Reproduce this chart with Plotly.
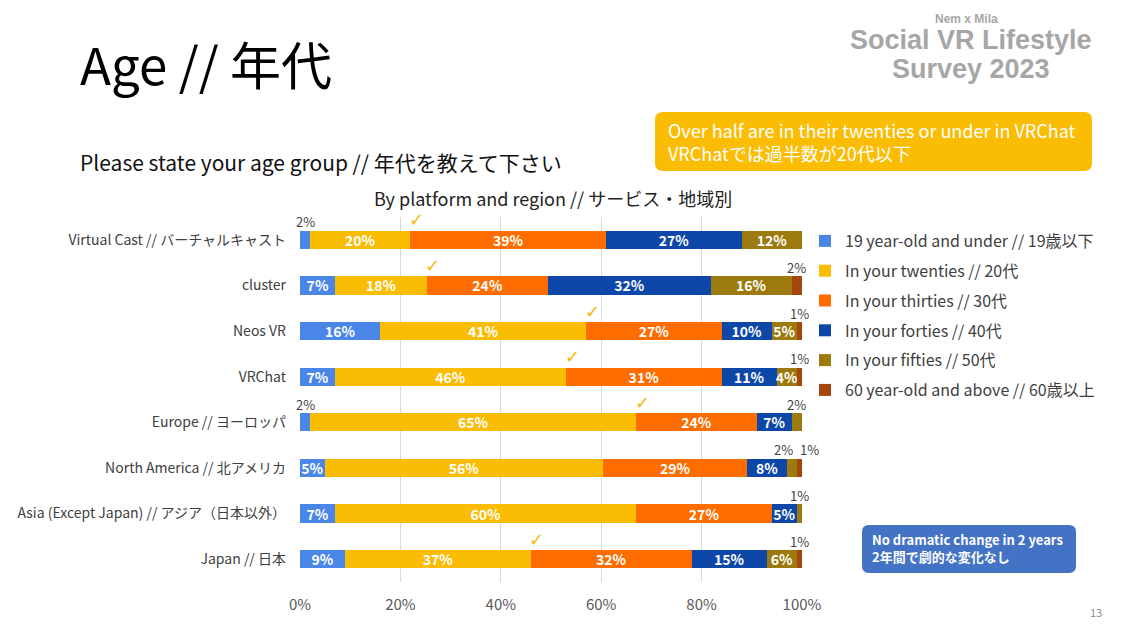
import plotly.graph_objects as go

categories = [
    "Virtual Cast // バーチャルキャスト",
    "cluster",
    "Neos VR",
    "VRChat",
    "Europe // ヨーロッパ",
    "North America // 北アメリカ",
    "Asia (Except Japan) // アジア（日本以外）",
    "Japan // 日本",
]
series_names = [
    "19 year-old and under // 19歳以下",
    "In your twenties // 20代",
    "In your thirties // 30代",
    "In your forties // 40代",
    "In your fifties // 50代",
    "60 year-old and above // 60歳以上",
]
age_19_under = [2, 7, 16, 7, 2, 5, 7, 9]
age_20s = [20, 18, 41, 46, 65, 56, 60, 37]
age_30s = [39, 24, 27, 31, 24, 29, 27, 32]
age_40s = [27, 32, 10, 11, 7, 8, 5, 15]
age_50s = [12, 16, 5, 4, 2, 2, 1, 6]
age_60_over = [0, 2, 1, 1, 0, 1, 0, 1]
checked_rows = [True, True, True, True, True, False, False, True]
x_ticks = [0, 20, 40, 60, 80, 100]

colors = ["#4a86e8", "#fbbc04", "#ff6d01", "#0d47a8", "#9c7a0e", "#a5470d"]
series = [age_19_under, age_20s, age_30s, age_40s, age_50s, age_60_over]

FONT = "Noto Sans CJK JP"
W, H = 1125, 633
OFF = 8  # the page body margin shifts the figure by this much

# plot area in page pixels: x 300..802, y 217..582
L, R, T, B = 300, 802, 217, 582


def paper(x, y):
    return (x - L) / (R - L), (B - y) / (B - T)


fig = go.Figure()
for i, (name, vals) in enumerate(zip(series_names, series)):
    fig.add_trace(go.Bar(
        y=categories, x=vals, name=name, orientation="h",
        marker=dict(color=colors[i], line=dict(width=0)),
        text=[f"{v}%" if v >= 4 else "" for v in vals],
        textposition="inside", insidetextanchor="middle",
        textfont=dict(family=FONT, size=14, color="white", weight=700),
        constraintext="none",
        legendgroup=f"g{i}",
    ))

annotations = []
# small values labelled above the bar, check marks at the 20s/30s boundary
for r, cat in enumerate(categories):
    row = [s[r] for s in series]
    total = sum(row)
    cum = 0
    for j, v in enumerate(row):
        if 0 < v < 4:
            xc = (cum + v / 2) / total * 100
            shift = 0
            if r == 5 and j == 5:
                shift = 10
            elif r == 5 and j == 4:
                shift = -9
            annotations.append(dict(
                x=xc, y=cat, xref="x", yref="y", text=f"{v}%", showarrow=False,
                yshift=18, xshift=shift, font=dict(family=FONT, size=13, color="#404040"),
            ))
        cum += v
    if checked_rows[r]:
        annotations.append(dict(
            x=(row[0] + row[1]) / total * 100, y=cat, xref="x", yref="y", text="✓",
            showarrow=False, yshift=20, xshift=6,
            font=dict(family="DejaVu Sans", size=18, color="#f4b90c"),
        ))


def txt(x, y, text, size, color, xanchor="left", weight=400, family=FONT):
    px_, py_ = paper(x, y)
    annotations.append(dict(
        x=px_, y=py_, xref="paper", yref="paper", text=text, showarrow=False,
        xanchor=xanchor, yanchor="middle", align=xanchor,
        font=dict(family=family, size=size, color=color, weight=weight),
    ))


txt(78, 162, "Please state your age group // 年代を教えて下さい", 21, "#111111")
txt(553, 198, "By platform and region // サービス・地域別", 18, "#222222", xanchor="center")
txt(966, 19, "Nem x Mila", 12, "#a6a6a6", xanchor="center", weight=700, family="Liberation Sans")
txt(971, 40, "Social VR Lifestyle", 27, "#a6a6a6", xanchor="center", weight=700, family="Liberation Sans")
txt(971, 69, "Survey 2023", 27, "#a6a6a6", xanchor="center", weight=700, family="Liberation Sans")
txt(666, 141, "Over half are in their twenties or under in VRChat<br>VRChatでは過半数が20代以下", 18, "white")
txt(870, 548, "No dramatic change in 2 years<br>2年間で劇的な変化なし", 13, "white", weight=700)
txt(1104, 612, "13", 11, "#8a8a8a", xanchor="right")


def rounded_box(x0, y0, x1, y1, r, color):
    a0, b0 = paper(x0, y1)
    a1, b1 = paper(x1, y0)
    rx = r / (R - L)
    ry = r / (B - T)
    path = (f"M{a0+rx},{b0} L{a1-rx},{b0} Q{a1},{b0} {a1},{b0+ry} "
            f"L{a1},{b1-ry} Q{a1},{b1} {a1-rx},{b1} L{a0+rx},{b1} "
            f"Q{a0},{b1} {a0},{b1-ry} L{a0},{b0+ry} Q{a0},{b0} {a0+rx},{b0} Z")
    return dict(type="path", xref="paper", yref="paper", path=path,
                fillcolor=color, line=dict(width=0), layer="below")


shapes = [
    rounded_box(655, 112, 1092, 171, 8, "#fbbc04"),
    rounded_box(862, 525, 1076, 573, 7, "#4472c4"),
]

fig.update_layout(
    width=W, height=H,
    margin=dict(l=L - OFF, r=W - R + OFF, t=T - OFF, b=H - B + OFF),
    paper_bgcolor="white", plot_bgcolor="white",
    barmode="stack", barnorm="percent", bargap=0.6,
    font=dict(family=FONT, color="#404040"),
    title=dict(text="Age // 年代", x=(80 - OFF) / W, xanchor="left", xref="container",
               y=1 - (67 - OFF) / H, yanchor="middle", yref="container",
               font=dict(family=FONT, size=51, color="#000000")),
    legend=dict(x=paper(805, 0)[0], y=paper(0, 224)[1], xanchor="left", yanchor="top",
                font=dict(family=FONT, size=16, color="#404040"),
                traceorder="grouped", tracegroupgap=6, itemwidth=30,
                bgcolor="rgba(0,0,0,0)"),
    annotations=annotations,
    shapes=shapes,
)
fig.update_xaxes(range=[0, 100], tickvals=x_ticks, ticktext=[f"{v}%" for v in x_ticks],
                 showgrid=True, gridcolor="#d9d9d9", gridwidth=1, zeroline=False,
                 showline=False, ticks="", ticklabelstandoff=12, automargin=False,
                 tickfont=dict(family=FONT, size=15, color="#595959"))
fig.update_yaxes(categoryorder="array", categoryarray=categories,
                 range=[len(categories) - 0.5, -0.5], automargin=False,
                 showgrid=False, showline=False, ticks="", ticklabelstandoff=13,
                 tickfont=dict(family=FONT, size=14, color="#404040"))

fig.write_html("out.html")
